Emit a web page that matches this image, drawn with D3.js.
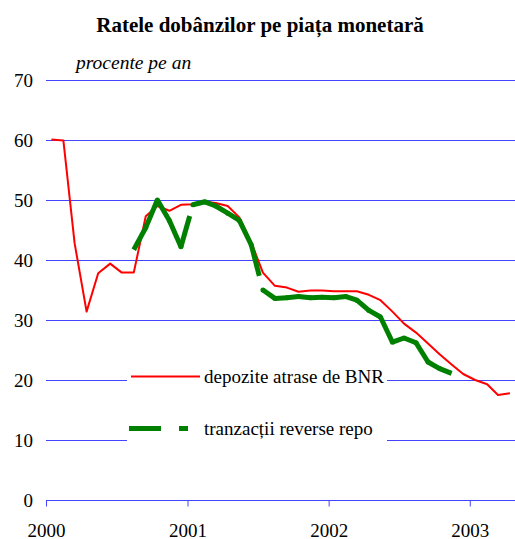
<!DOCTYPE html>
<html>
<head>
<meta charset="utf-8">
<script src="https://cdn.jsdelivr.net/npm/d3@7"></script>
<style>
    html, body { margin: 0; padding: 0; background: white; }
    svg { display: block; }
</style>
</head>
<body>
<script>
// Monthly values, Jan 2000 .. Apr 2003
var depoziteValues = [60.1, 59.9, 42.8, 31.4, 37.8, 39.4, 37.9, 37.9, 47.3, 49.0,
                      48.2, 49.2, 49.3, 49.7, 49.5, 49.0, 47.1, 42.9, 37.9, 35.7,
                      35.4, 34.7, 34.9, 34.9, 34.8, 34.8, 34.8, 34.2, 33.3, 31.4,
                      29.4, 27.9, 26.1, 24.3, 22.6, 21.0, 20.0, 19.3, 17.5, 17.8];

// Reverse repo starts in Aug 2000 (month index 7)
var repoStart = 7;
var repoValues = [41.7, 45.4, 50.0, 46.6, 42.2, 49.2, 49.7, 49.0, 47.8, 46.6,
                  42.5, 35.0, 33.6, 33.7, 33.9, 33.7, 33.8, 33.7, 33.9, 33.3,
                  31.6, 30.5, 26.3, 27.0, 26.2, 23.0, 21.9, 21.1];

var yTicks = [0, 10, 20, 30, 40, 50, 60, 70];
var yearTicks = ["2000", "2001", "2002", "2003"];
var seriesNames = ["depozite atrase de BNR", "tranzacții reverse repo"];

var width = 515, height = 539;
var font = "Liberation Serif";
var gridColor = "#4444ff";
var dashPattern = "32,18,9,18";

var months = d3.timeMonth.range(new Date(2000, 0, 1), new Date(2003, 4, 1));
var midMonth = function (i) { return d3.timeDay.offset(months[i], 14); };

var x = d3.scaleTime()
          .domain([new Date(2000, 0, 1), new Date(2003, 3, 28)])
          .range([46, 515]);
var y = d3.scaleLinear().domain([0, 70]).range([500, 80]);

var svg = d3.select("body").append("svg")
            .attr("width", width)
            .attr("height", height);

// Title + unit
svg.append("text")
   .attr("x", 260).attr("y", 32)
   .attr("text-anchor", "middle")
   .attr("font-family", font)
   .attr("font-size", 21)
   .attr("font-weight", "bold")
   .text("Ratele dobânzilor pe piața monetară");

svg.append("text")
   .attr("x", 76).attr("y", 69)
   .attr("font-family", font)
   .attr("font-size", 19.5)
   .attr("font-style", "italic")
   .text("procente pe an");

// Horizontal grid
svg.append("g").selectAll("line")
   .data(yTicks)
   .join("line")
   .attr("x1", 46).attr("x2", width)
   .attr("y1", d => Math.round(y(d)) + 0.5)
   .attr("y2", d => Math.round(y(d)) + 0.5)
   .style("stroke", gridColor)
   .style("stroke-width", 1);

svg.append("g").selectAll("text")
   .data(yTicks)
   .join("text")
   .attr("x", 33)
   .attr("y", d => y(d))
   .attr("dy", "0.35em")
   .attr("text-anchor", "end")
   .attr("font-family", font)
   .attr("font-size", 19)
   .text(d => d);

// x axis ticks (years), label baseline ~537
var xAxis = d3.axisBottom(x)
              .tickValues(yearTicks.map(yr => new Date(+yr, 0, 1)))
              .tickFormat(d3.timeFormat("%Y"))
              .tickSize(6)
              .tickPadding(30);

var gx = svg.append("g")
            .attr("transform", "translate(0," + (Math.round(y(0)) + 0.5) + ")")
            .call(xAxis);
gx.select(".domain").remove();
gx.selectAll(".tick line").style("stroke", gridColor);
gx.selectAll(".tick text")
  .attr("font-family", font)
  .attr("font-size", 19)
  .attr("dy", 0)
  .style("fill", "black");

// Red line
var line = d3.line()
             .x(d => x(d.date))
             .y(d => y(d.value));

var depozite = depoziteValues.map((v, i) => ({date: midMonth(i), value: v}));
var repo = repoValues.map((v, i) => ({date: midMonth(i + repoStart), value: v}));

svg.append("path")
   .datum(depozite)
   .attr("d", line)
   .style("fill", "none")
   .style("stroke", "#ff0000")
   .style("stroke-width", 2)
   .style("stroke-linejoin", "round");

// Green dashed line: dash pattern restarts on every segment
var segs = d3.pairs(repo);
var gRepo = svg.append("g");
gRepo.selectAll("line")
     .data(segs)
     .join("line")
     .attr("x1", d => x(d[0].date)).attr("y1", d => y(d[0].value))
     .attr("x2", d => x(d[1].date)).attr("y2", d => y(d[1].value))
     .style("stroke", "#008000")
     .style("stroke-width", 5)
     .style("stroke-dasharray", dashPattern);

gRepo.selectAll("circle")
     .data(repo.slice(1, -1))
     .join("circle")
     .attr("cx", d => x(d.date))
     .attr("cy", d => y(d.value))
     .attr("r", 2.5)
     .style("fill", "#008000");

// Legend
var legend = svg.append("g");
legend.append("rect")
      .attr("x", 127).attr("y", 358)
      .attr("width", 260).attr("height", 92)
      .style("fill", "white");

legend.append("line")
      .attr("x1", 131).attr("x2", 200)
      .attr("y1", 376.5).attr("y2", 376.5)
      .style("stroke", "#ff0000")
      .style("stroke-width", 2);

legend.append("line")
      .attr("x1", 129).attr("x2", 200)
      .attr("y1", 428.5).attr("y2", 428.5)
      .style("stroke", "#008000")
      .style("stroke-width", 5)
      .style("stroke-dasharray", dashPattern);

legend.selectAll("text")
      .data(seriesNames)
      .join("text")
      .attr("x", 204)
      .attr("y", (d, i) => 383 + i * 52)
      .attr("font-family", font)
      .attr("font-size", 19)
      .text(d => d);
</script>
</body>
</html>
